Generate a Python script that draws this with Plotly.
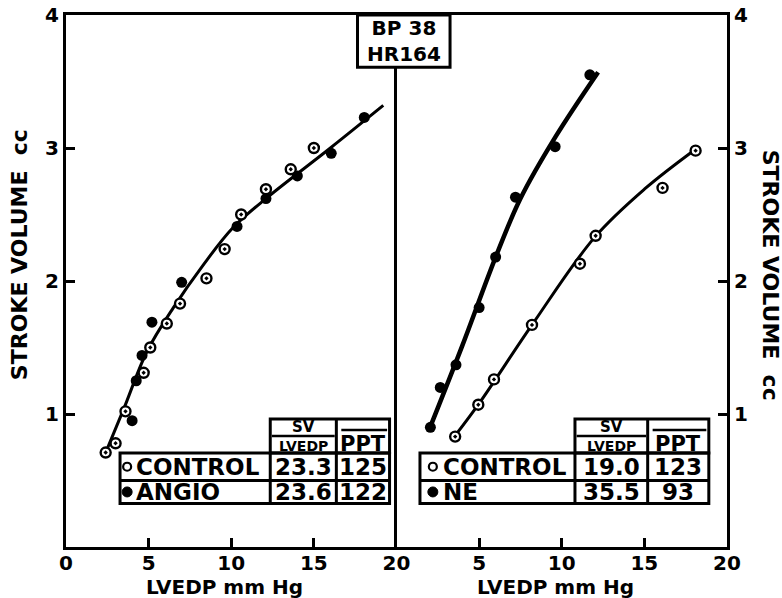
import plotly.graph_objects as go

# ---------------- data ----------------
# Left panel: control vs angio
left_ctrl_x = [2.4, 3.0, 3.6, 4.7, 5.1, 6.1, 6.9, 8.5, 9.6, 10.6, 12.1, 13.6, 15.0]
left_ctrl_y = [0.71, 0.78, 1.02, 1.31, 1.50, 1.68, 1.83, 2.02, 2.24, 2.50, 2.69, 2.84, 3.00]
left_angio_x = [4.0, 4.25, 4.6, 5.2, 7.0, 10.35, 12.1, 14.0, 16.05, 18.05]
left_angio_y = [0.95, 1.25, 1.44, 1.69, 1.99, 2.41, 2.62, 2.79, 2.96, 3.23]
left_curve_x = [2.3, 3.5, 4.9, 6.5, 8.3, 10.1, 12.2, 16.0, 19.2]
left_curve_y = [0.68, 1.04, 1.47, 1.80, 2.12, 2.40, 2.63, 3.00, 3.32]

# Right panel: control vs NE
right_ctrl_x = [3.55, 4.95, 5.9, 8.2, 11.1, 12.05, 16.1, 18.1]
right_ctrl_y = [0.83, 1.07, 1.26, 1.67, 2.13, 2.34, 2.70, 2.98]
right_ne_x = [2.05, 2.65, 3.6, 5.0, 6.0, 7.2, 9.6, 11.7]
right_ne_y = [0.90, 1.20, 1.37, 1.80, 2.18, 2.63, 3.01, 3.55]
right_ctrl_curve_x = [3.5, 5.0, 8.2, 12.0, 15.0, 18.2]
right_ctrl_curve_y = [0.83, 1.08, 1.67, 2.33, 2.69, 3.00]
right_ne_curve_x = [2.0, 4.0, 6.0, 7.5, 9.6, 12.2]
right_ne_curve_y = [0.89, 1.52, 2.18, 2.62, 3.08, 3.57]

# tables
left_rows = ["CONTROL", "ANGIO"]
left_sv = ["23.3", "23.6"]
left_ppt = ["125", "122"]
right_rows = ["CONTROL", "NE"]
right_sv = ["19.0", "35.5"]
right_ppt = ["123", "93"]

x_ticks_left = [0, 5, 10, 15, 20]
x_ticks_right = [5, 10, 15, 20]
y_ticks = [1, 2, 3, 4]
box_text = "BP 38<br>HR164"
x_title = "LVEDP mm Hg"
y_title = "STROKE VOLUME  cc"

FONT = "DejaVu Sans"
BLACK = "black"

fig = go.Figure()

def add_series(xs, ys, xa, ya, filled):
    if filled:
        fig.add_trace(go.Scatter(x=xs, y=ys, xaxis=xa, yaxis=ya, mode="markers",
                                 marker=dict(symbol="circle", size=11, color=BLACK),
                                 showlegend=False, hoverinfo="skip"))
    else:
        fig.add_trace(go.Scatter(x=xs, y=ys, xaxis=xa, yaxis=ya, mode="markers",
                                 marker=dict(symbol="circle-dot", size=10, color="white",
                                             line=dict(color=BLACK, width=2.4)),
                                 showlegend=False, hoverinfo="skip"))

def add_curve(xs, ys, xa, ya, w):
    fig.add_trace(go.Scatter(x=xs, y=ys, xaxis=xa, yaxis=ya, mode="lines",
                             line=dict(color=BLACK, width=w, shape="spline", smoothing=1.0),
                             showlegend=False, hoverinfo="skip"))

add_curve(left_curve_x, left_curve_y, "x", "y", 3)
add_curve(right_ctrl_curve_x, right_ctrl_curve_y, "x2", "y2", 3)
add_curve(right_ne_curve_x, right_ne_curve_y, "x2", "y2", 4.5)
add_series(left_angio_x, left_angio_y, "x", "y", True)
add_series(left_ctrl_x, left_ctrl_y, "x", "y", False)
add_series(right_ne_x, right_ne_y, "x2", "y2", True)
add_series(right_ctrl_x, right_ctrl_y, "x2", "y2", False)

tickfont = dict(family=FONT, size=20, color=BLACK, weight="bold")
axis_common = dict(showgrid=False, zeroline=False, showline=True, linewidth=3,
                   linecolor=BLACK, ticks="inside", ticklen=9, tickwidth=3,
                   tickcolor=BLACK, tickfont=tickfont, automargin=False)

fig.update_layout(
    width=782, height=598,
    margin=dict(l=66, r=55, t=15, b=51, autoexpand=False),
    paper_bgcolor="white", plot_bgcolor="white",
    font=dict(family=FONT, color=BLACK),
    xaxis=dict(domain=[0, 0.5], range=[0, 20], tickvals=x_ticks_left, anchor="y",
               mirror=True, ticklabelstandoff=-4, **axis_common),
    xaxis2=dict(domain=[0.5, 1], range=[0, 20], tickvals=x_ticks_right, anchor="y2",
                mirror=True, ticklabelstandoff=-4, **axis_common),
    yaxis=dict(domain=[0, 1], range=[0, 4], tickvals=y_ticks, anchor="x", side="left",
               mirror=False, **axis_common),
    yaxis2=dict(domain=[0, 1], range=[0, 4], tickvals=y_ticks, anchor="x2", side="right",
                mirror=True, **axis_common),
)

shapes = []
annots = []

def ann(**kw):
    kw.setdefault("showarrow", False)
    kw.setdefault("xanchor", "center")
    kw.setdefault("yanchor", "middle")
    annots.append(kw)

def table(xr, yr, x0, xc1, xc2, x3, circ_x, text_x, rows, sv, ppt):
    ytop, yh, ymid, ybot = 0.962, 0.707, 0.500, 0.328
    lw = 3
    # header box (two cells)
    shapes.append(dict(type="rect", xref=xr, yref=yr, x0=xc1, x1=x3, y0=yh, y1=ytop,
                       line=dict(color=BLACK, width=lw)))
    shapes.append(dict(type="line", xref=xr, yref=yr, x0=xc2, x1=xc2, y0=yh, y1=ytop,
                       line=dict(color=BLACK, width=lw)))
    # body
    shapes.append(dict(type="rect", xref=xr, yref=yr, x0=x0, x1=x3, y0=ybot, y1=yh,
                       line=dict(color=BLACK, width=lw)))
    shapes.append(dict(type="line", xref=xr, yref=yr, x0=x0, x1=x3, y0=ymid, y1=ymid,
                       line=dict(color=BLACK, width=lw)))
    for xv in (xc1, xc2):
        shapes.append(dict(type="line", xref=xr, yref=yr, x0=xv, x1=xv, y0=ybot, y1=yh,
                           line=dict(color=BLACK, width=lw)))
    # fraction line under SV
    shapes.append(dict(type="line", xref=xr, yref=yr, x0=xc1 + 0.1, x1=xc2 - 0.1,
                       y0=0.835, y1=0.835, line=dict(color=BLACK, width=2.5)))
    # overline of PPT
    shapes.append(dict(type="line", xref=xr, yref=yr, x0=xc2 + 0.3, x1=x3 - 0.15,
                       y0=0.88, y1=0.88, line=dict(color=BLACK, width=2.5)))
    ann(xref=xr, yref=yr, x=(xc1 + xc2) / 2, y=0.905, text="SV",
        font=dict(family=FONT, size=15, color=BLACK, weight="bold"))
    ann(xref=xr, yref=yr, x=(xc1 + xc2) / 2, y=0.758, text="LVEDP",
        font=dict(family=FONT, size=14, color=BLACK, weight="bold"))
    ann(xref=xr, yref=yr, x=(xc2 + x3) / 2, y=0.775, text="PPT",
        font=dict(family=FONT, size=21, color=BLACK, weight="bold"))
    rf = dict(family=FONT, size=23, color=BLACK, weight="bold")
    row_y = [(yh + ymid) / 2, (ymid + ybot) / 2]
    for i in range(2):
        ann(xref=xr, yref=yr, x=text_x, y=row_y[i], text=rows[i], xanchor="left", font=rf)
        ann(xref=xr, yref=yr, x=(xc1 + xc2) / 2, y=row_y[i], text=sv[i], font=rf)
        ann(xref=xr, yref=yr, x=(xc2 + x3) / 2, y=row_y[i], text=ppt[i], font=rf)
    # symbol circles
    shapes.append(dict(type="circle", xref=xr, yref=yr, xsizemode="pixel", ysizemode="pixel",
                       xanchor=circ_x, yanchor=row_y[0], x0=-4, x1=4, y0=-4, y1=4,
                       line=dict(color=BLACK, width=2.2), fillcolor="white"))
    shapes.append(dict(type="circle", xref=xr, yref=yr, xsizemode="pixel", ysizemode="pixel",
                       xanchor=circ_x, yanchor=row_y[1], x0=-5, x1=5, y0=-5, y1=5,
                       line=dict(color=BLACK, width=1), fillcolor=BLACK))

table("x", "y", 3.27, 12.36, 16.36, 19.58, 3.7, 4.1, left_rows, left_sv, left_ppt)
table("x2", "y2", 1.42, 10.8, 15.2, 18.9, 2.2, 2.7, right_rows, right_sv, right_ppt)

# BP / HR box
shapes.append(dict(type="rect", xref="paper", yref="paper", x0=0.441, x1=0.581, y0=0.902, y1=1.0,
                   line=dict(color=BLACK, width=3), fillcolor="white", layer="above"))
ann(xref="paper", yref="paper", x=0.511, y=0.951, text=box_text,
    font=dict(family=FONT, size=20, color=BLACK, weight="bold"))

# x-axis titles
for xr in ("x domain", "x2 domain"):
    ann(xref=xr, yref="paper", x=0.48, y=-0.076, text=x_title,
        font=dict(family=FONT, size=20, color=BLACK, weight="bold"))

# y-axis titles
ann(xref="paper", yref="paper", x=-0.07, y=0.55, text=y_title, textangle=-90,
    font=dict(family=FONT, size=22, color=BLACK, weight="bold"))
ann(xref="paper", yref="paper", x=1.065, y=0.51, text=y_title, textangle=90,
    font=dict(family=FONT, size=22, color=BLACK, weight="bold"))

fig.update_layout(shapes=shapes, annotations=annots)
fig.write_html("out.html")
